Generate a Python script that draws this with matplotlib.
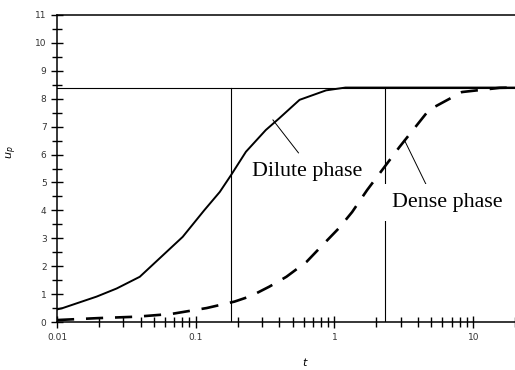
import matplotlib.pyplot as plt
from matplotlib.ticker import FixedLocator, NullFormatter

# --------------------------------
# Data
# --------------------------------

dilute_t = [0.01, 0.011, 0.0193, 0.0269, 0.0395, 0.0805, 0.115, 0.149, 0.18, 0.23,
            0.32, 0.40, 0.56, 0.87, 1.2, 20]
dilute_u = [0.45, 0.5, 0.91, 1.2, 1.62, 3.05, 4.0, 4.66, 5.27, 6.1,
            6.88, 7.3, 7.96, 8.3, 8.4, 8.4]

dense_t = [0.01, 0.02, 0.0376, 0.067, 0.12, 0.19, 0.25, 0.34, 0.45, 0.63, 0.80,
           1.08, 1.34, 1.72, 2.94, 4.8, 8.3, 15.5, 20]
dense_u = [0.07, 0.14, 0.19, 0.29, 0.5, 0.73, 0.93, 1.27, 1.62, 2.16, 2.7,
           3.37, 3.94, 4.73, 6.27, 7.6, 8.24, 8.39, 8.4]

u_max = 8.4
t_dilute = 0.18
t_dense = 2.3

x_ticks = [0.01, 0.1, 1, 10]
x_ticklabels = ["0.01", "0.1", "1", "10"]
y_ticks = list(range(0, 12))

# label positions and leader lines (data coords)
dilute_label = (0.256, 5.23)
dilute_leader = ([0.36, 0.55], [7.24, 6.06])
dense_label = (2.61, 4.13)
dense_leader = ([3.19, 4.59], [6.52, 4.91])

# --------------------------------
# Plot
# --------------------------------

fig = plt.figure(figsize=(5.15, 3.70), dpi=100)
ax = fig.add_axes([57 / 515, 1 - 322 / 370, 1 - 57 / 515, (322 - 15) / 370])

ax.plot(dilute_t, dilute_u, color="black", lw=1.4, solid_capstyle="round")
ax.plot(dense_t, dense_u, color="black", lw=1.9, dashes=(6.5, 4.5))

ax.axhline(u_max, color="black", lw=0.8)
ax.plot([t_dilute, t_dilute], [0, u_max], color="black", lw=0.8)
ax.plot([t_dense, t_dense], [0, u_max], color="black", lw=0.8)

ax.set_xscale("log")
ax.set_xlim(0.01, 20)
ax.set_ylim(0, 11)

ax.xaxis.set_major_locator(FixedLocator(x_ticks))
ax.set_xticklabels(x_ticklabels)
minor_x = [m * 10.0 ** e for e in (-2, -1, 0, 1) for m in range(2, 10) if m * 10.0 ** e <= 20]
ax.xaxis.set_minor_locator(FixedLocator(minor_x))
ax.xaxis.set_minor_formatter(NullFormatter())
ax.set_yticks(y_ticks)
ax.yaxis.set_minor_locator(FixedLocator([y + 0.5 for y in range(0, 11)]))

ax.tick_params(which="both", direction="inout", length=8, width=1.0, labelsize=6.5,
               labelcolor="#333333", top=False, right=False)
ax.tick_params(which="minor", length=7)
ax.tick_params(axis="x", pad=4)

ax.spines["right"].set_visible(False)
for s in ("left", "bottom", "top"):
    ax.spines[s].set_linewidth(1.1)

# annotations
ax.plot(*dilute_leader, color="black", lw=0.7)
ax.text(*dilute_label, "Dilute phase", fontsize=15.8, family="Liberation Serif",
        va="baseline", ha="left")
ax.text(*dense_label, "Dense phase", fontsize=15.8, family="Liberation Serif",
        va="baseline", ha="left",
        bbox=dict(boxstyle="square,pad=0.4", fc="white", ec="none"))
ax.plot(*dense_leader, color="black", lw=0.7)

fig.text(12 / 515, 1 - 152 / 370, "$u_p$", rotation=90, fontsize=8,
         ha="center", va="center")
fig.text(305 / 515, 1 - 362 / 370, "$t$", fontsize=8, ha="center", va="center")

plt.savefig("out.png", dpi=100)
